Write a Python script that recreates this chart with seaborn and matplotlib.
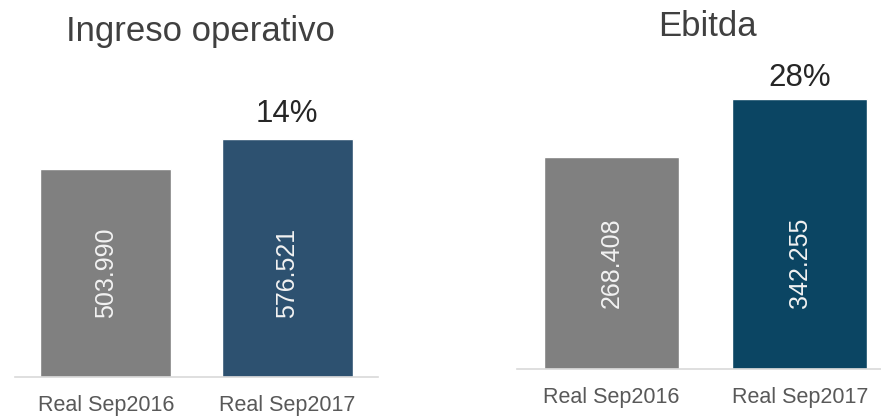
import matplotlib
matplotlib.use("Agg")
import matplotlib.pyplot as plt
import seaborn as sns
import pandas as pd

# data
categories = ["Real Sep2016", "Real Sep2017"]
ingreso_values = [503990, 576521]
ingreso_labels = ["503.990", "576.521"]
ingreso_growth = "14%"
ebitda_values = [268408, 342255]
ebitda_labels = ["268.408", "342.255"]
ebitda_growth = "28%"

W, H = 881, 418
FONT = ["Liberation Sans", "DejaVu Sans"]

sns.set_style("white")
plt.rcParams["font.family"] = FONT


def px_axes(fig, left, top, right, bottom):
    # pixel box (from top-left) -> figure fraction
    return fig.add_axes([left / W, 1 - bottom / H, (right - left) / W, (bottom - top) / H])


def panel(ax, values, labels, growth, colors, ymax, width, gap):
    df = pd.DataFrame({"cat": categories, "val": values})
    sns.barplot(data=df, x="cat", y="val", hue="cat", palette=colors,
                width=width, legend=False, ax=ax, saturation=1)
    ax.set_xlim(-0.5, 1.5)
    ax.set_ylim(0, ymax)
    ax.set_xlabel("")
    ax.set_ylabel("")
    ax.set_yticks([])
    for s in ["top", "left", "right"]:
        ax.spines[s].set_visible(False)
    ax.spines["bottom"].set_color("#d9d9d9")
    ax.spines["bottom"].set_linewidth(1.2)
    ax.tick_params(axis="x", length=0, pad=13, labelsize=15.5, labelcolor="#595959")
    for i, lab in enumerate(labels):
        ax.text(i, values[0] / 2, lab, rotation=90, ha="center", va="center",
                color="#f2f2f2", fontsize=18)
    ax.annotate(growth, (1, values[1]), xytext=(0, gap), textcoords="offset points",
                ha="center", va="bottom", fontsize=22.5, color="#262626")


fig = plt.figure(figsize=(W / 100, H / 100), dpi=100)

ax1 = px_axes(fig, 15, 100, 378, 377)
panel(ax1, ingreso_values, ingreso_labels, ingreso_growth,
      ["#808080", "#2d5170"], 277 * 503990 / 208, 0.72, 7)

ax2 = px_axes(fig, 517, 60, 894, 369)
panel(ax2, ebitda_values, ebitda_labels, ebitda_growth,
      ["#808080", "#0b4563"], 309 * 1267, 0.715, 4.5)

fig.text(200 / W, 1 - 31 / H, "Ingreso operativo", ha="center", va="center",
         fontsize=25, color="#404040")
fig.text(707 / W, 1 - 26 / H, "Ebitda", ha="center", va="center",
         fontsize=25, color="#404040")

fig.savefig("out.png", dpi=100)
